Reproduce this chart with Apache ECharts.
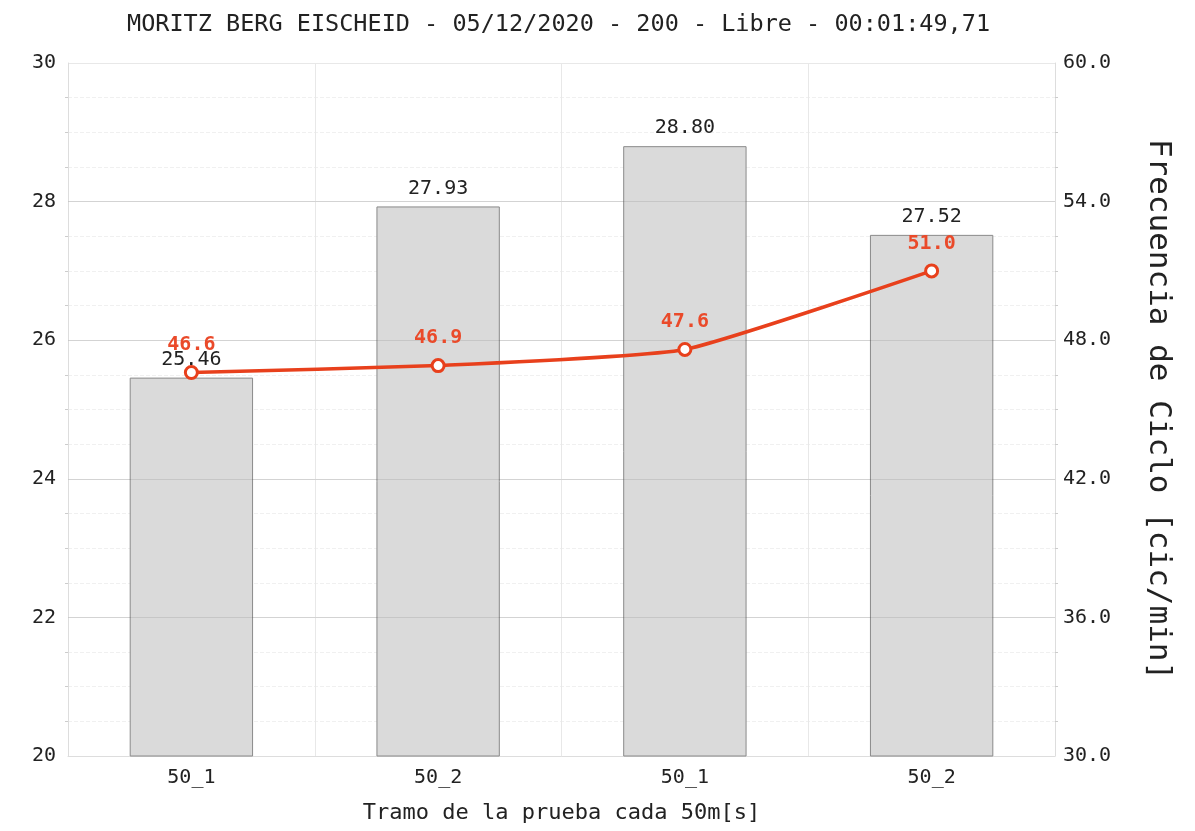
<!DOCTYPE html>
<html>
<head>
<meta charset="utf-8">
<script src="https://cdn.jsdelivr.net/npm/echarts@6/dist/echarts.min.js"></script>
<style>html,body{margin:0;padding:0;background:#fff;}#c{width:1195px;height:831px;}</style>
</head>
<body>
<div id="c"></div>
<script>
const titleText = 'MORITZ BERG EISCHEID - 05/12/2020 - 200 - Libre - 00:01:49,71';
const categories = ['50_1', '50_2', '50_1', '50_2'];
const splitTimes = [25.46, 27.93, 28.80, 27.52];
const strokeRate = [46.6, 46.9, 47.6, 51.0];
const majorLines = [22, 24, 26, 28];

const FONT = '"DejaVu Sans Mono", "Liberation Mono", monospace';
const chart = echarts.init(document.getElementById('c'));
chart.setOption({
  backgroundColor: '#fff',
  animation: false,
  title: {
    text: titleText, left: 122, top: 8,
    textStyle: { fontFamily: FONT, fontSize: 23.5, fontWeight: 'normal', color: '#222' }
  },
  grid: { left: 68, right: 140, top: 63, bottom: 75 },
  xAxis: {
    type: 'category', data: categories, boundaryGap: true,
    name: 'Tramo de la prueba cada 50m[s]', nameLocation: 'middle', nameGap: 46,
    nameTextStyle: { fontFamily: FONT, fontSize: 22, color: '#222' },
    axisLine: { lineStyle: { color: '#ddd' } },
    axisTick: { show: false },
    axisLabel: { fontFamily: FONT, fontSize: 20, color: '#222', margin: 12 },
    splitLine: { show: true, lineStyle: { color: '#e8e8e8' } }
  },
  yAxis: [{
    type: 'value', min: 20, max: 30, interval: 2,
    axisLine: { show: true, lineStyle: { color: '#ddd' } },
    axisTick: { show: false },
    minorTick: { show: true, splitNumber: 4, length: 3, lineStyle: { color: '#ccc' } },
    axisLabel: { fontFamily: FONT, fontSize: 20, color: '#222', margin: 12 },
    splitLine: { show: true, lineStyle: { color: '#e8e8e8' } },
    minorSplitLine: { show: true, lineStyle: { color: '#f0f0f0', type: 'dashed' } }
  }, {
    type: 'value', min: 30, max: 60, interval: 6, position: 'right',
    name: 'Frecuencia de Ciclo [cic/min]', nameLocation: 'middle', nameRotate: -90, nameGap: 88,
    nameTextStyle: { fontFamily: FONT, fontSize: 31, color: '#222' },
    axisLine: { show: true, lineStyle: { color: '#ddd' } },
    axisTick: { show: false },
    minorTick: { show: true, splitNumber: 4, length: 3, lineStyle: { color: '#ccc' } },
    axisLabel: { fontFamily: FONT, fontSize: 20, color: '#222', margin: 8, formatter: v => v.toFixed(1) },
    splitLine: { show: false }
  }],
  series: [{
    type: 'bar', data: splitTimes, barWidth: '50%', yAxisIndex: 0,
    itemStyle: { color: '#dadada', borderColor: '#8a8a8a', borderWidth: 1 },
    label: { show: true, position: 'top', distance: 8, fontFamily: FONT, fontSize: 20, color: '#222',
      formatter: p => p.value.toFixed(2) },
    markLine: {
      silent: true, symbol: 'none', label: { show: false },
      lineStyle: { color: 'rgba(0,0,0,0.09)', type: 'solid', width: 1 },
      data: majorLines.map(v => ({ yAxis: v }))
    }
  }, {
    type: 'line', data: strokeRate, yAxisIndex: 1, smooth: 0.15, z: 5,
    symbol: 'circle', symbolSize: 12,
    lineStyle: { color: '#e8401c', width: 3.5 },
    itemStyle: { color: '#fff', borderColor: '#e8401c', borderWidth: 3 },
    label: { show: true, position: 'top', distance: 10, fontFamily: FONT, fontSize: 20, fontWeight: 'bold', color: '#ea4a2a',
      formatter: p => p.value.toFixed(1) }
  }]
});
</script>
</body>
</html>
